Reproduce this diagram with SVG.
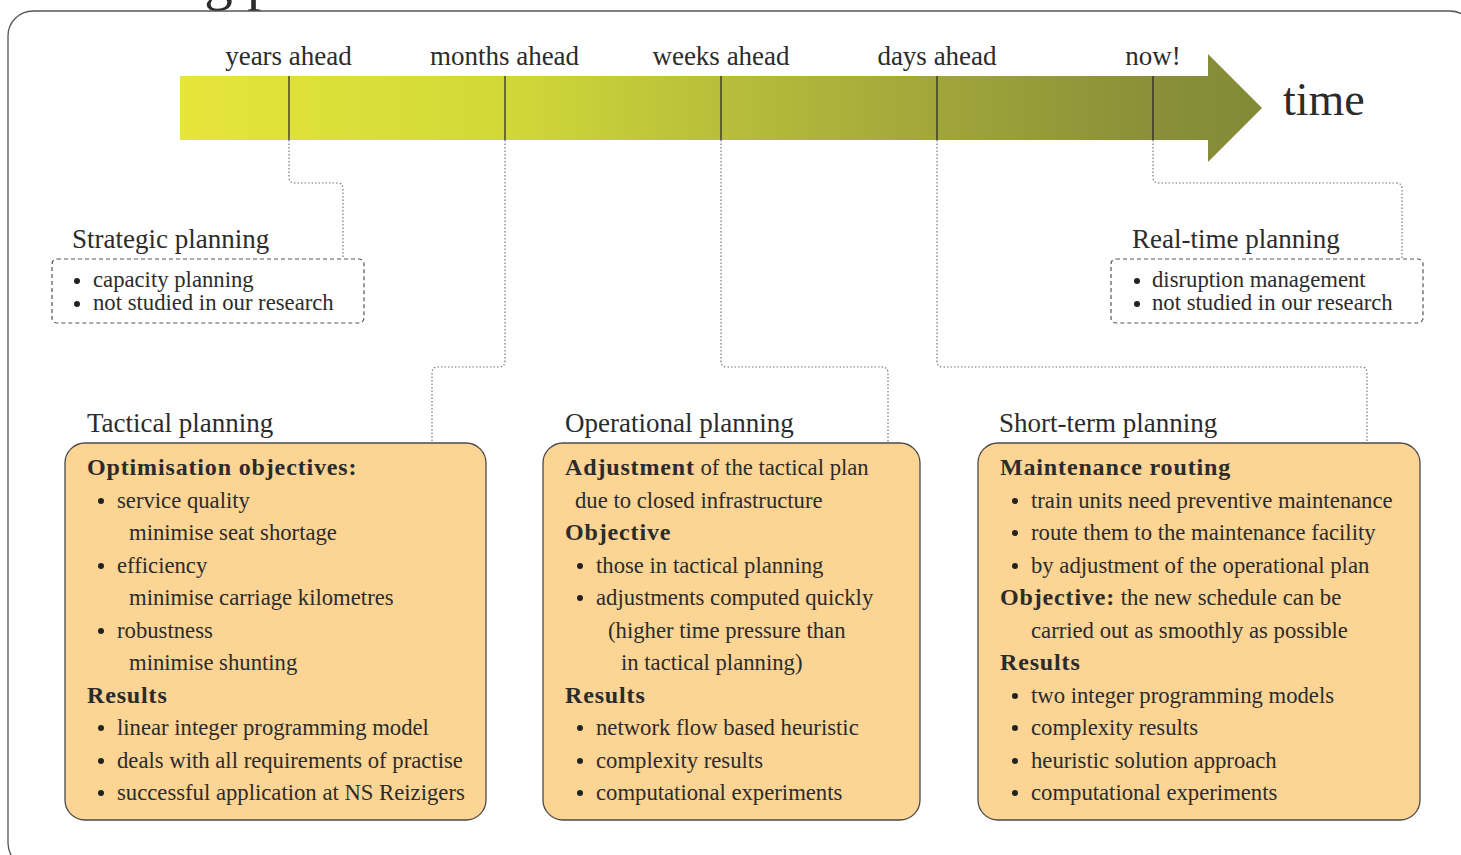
<svg xmlns="http://www.w3.org/2000/svg" width="1461" height="855" viewBox="0 0 1461 855">
<defs>
<linearGradient id="tg" gradientUnits="userSpaceOnUse" x1="180" y1="0" x2="1262" y2="0">
<stop offset="0" stop-color="#e6e53a"/>
<stop offset="0.3" stop-color="#d1d938"/>
<stop offset="0.5" stop-color="#b8be3a"/>
<stop offset="0.7" stop-color="#a0a63a"/>
<stop offset="0.9" stop-color="#8a8f38"/>
<stop offset="1" stop-color="#838a37"/>
</linearGradient>
<style>
text{font-family:"Liberation Serif","Times New Roman",serif;fill:#2b2b2b}
.lab{font-size:27px}
.tt{font-size:27px}
.b{font-size:22.7px}
.h{font-size:24px;font-weight:bold;letter-spacing:0.85px}
.bx{fill:#fcd494;stroke:#4a4a4a;stroke-width:1.3}
.dbx{fill:none;stroke:#555;stroke-width:1.2;stroke-dasharray:4 3}
.con{fill:none;stroke:#777;stroke-width:1.2;stroke-dasharray:1.5 2}
.tick{stroke:#222;stroke-width:1.2}
.dot{fill:#222}
</style>
</defs>
<text x="30" y="-1" style="font-size:57px">Planning phases</text>
<rect x="8" y="11" width="1467" height="857" rx="25" fill="none" stroke="#555" stroke-width="1.3"/>

<g id="timeline">
<path d="M180 76 H1208 V54 L1262 108 L1208 162 V140 H180 Z" fill="url(#tg)"/>
<line class="tick" x1="289" y1="76" x2="289" y2="140"/>
<line class="tick" x1="505" y1="76" x2="505" y2="140"/>
<line class="tick" x1="721" y1="76" x2="721" y2="140"/>
<line class="tick" x1="937" y1="76" x2="937" y2="140"/>
<line class="tick" x1="1153" y1="76" x2="1153" y2="140"/>
<text class="lab" x="288.5" y="65" text-anchor="middle">years ahead</text>
<text class="lab" x="504.5" y="65" text-anchor="middle">months ahead</text>
<text class="lab" x="721" y="65" text-anchor="middle">weeks ahead</text>
<text class="lab" x="937" y="65" text-anchor="middle">days ahead</text>
<text class="lab" x="1153" y="65" text-anchor="middle">now!</text>
<text x="1283" y="115" style="font-size:46px">time</text>
</g>

<g id="connectors">
<path class="con" d="M289 140 V177 Q289 183 295 183 H337 Q343 183 343 189 V259"/>
<path class="con" d="M505 140 V361 Q505 367 499 367 H438 Q432 367 432 373 V443"/>
<path class="con" d="M721 140 V361 Q721 367 727 367 H882 Q888 367 888 373 V443"/>
<path class="con" d="M937 140 V361 Q937 367 943 367 H1361 Q1367 367 1367 373 V443"/>
<path class="con" d="M1153 140 V177 Q1153 183 1159 183 H1396 Q1402 183 1402 189 V259"/>
</g>

<g id="strategic">
<text class="tt" x="72" y="248">Strategic planning</text>
<rect class="dbx" x="52" y="259" width="312" height="64" rx="5"/>
<circle class="dot" cx="77" cy="281" r="3"/>
<text class="b" x="93" y="287">capacity planning</text>
<circle class="dot" cx="77" cy="304" r="3"/>
<text class="b" x="93" y="310">not studied in our research</text>
</g>

<g id="realtime">
<text class="tt" x="1132" y="248">Real-time planning</text>
<rect class="dbx" x="1111" y="259" width="312" height="64" rx="5"/>
<circle class="dot" cx="1137" cy="281" r="3"/>
<text class="b" x="1152" y="287">disruption management</text>
<circle class="dot" cx="1137" cy="304" r="3"/>
<text class="b" x="1152" y="310">not studied in our research</text>
</g>

<g id="tactical">
<text class="tt" x="87" y="432">Tactical planning</text>
<rect class="bx" x="65" y="443" width="421" height="377" rx="20"/>
<text class="h" x="87" y="475">Optimisation objectives:</text>
<circle class="dot" cx="101" cy="501" r="3"/>
<text class="b" x="117" y="507.5">service quality</text>
<text class="b" x="129" y="540">minimise seat shortage</text>
<circle class="dot" cx="101" cy="566" r="3"/>
<text class="b" x="117" y="572.5">efficiency</text>
<text class="b" x="129" y="605">minimise carriage kilometres</text>
<circle class="dot" cx="101" cy="631" r="3"/>
<text class="b" x="117" y="637.5">robustness</text>
<text class="b" x="129" y="670">minimise shunting</text>
<text class="h" x="87" y="702.5">Results</text>
<circle class="dot" cx="101" cy="728" r="3"/>
<text class="b" x="117" y="735">linear integer programming model</text>
<circle class="dot" cx="101" cy="761" r="3"/>
<text class="b" x="117" y="767.5">deals with all requirements of practise</text>
<circle class="dot" cx="101" cy="793" r="3"/>
<text class="b" x="117" y="800">successful application at NS Reizigers</text>
</g>

<g id="operational">
<text class="tt" x="565" y="432">Operational planning</text>
<rect class="bx" x="543" y="443" width="377" height="377" rx="20"/>
<text x="565" y="475"><tspan class="h">Adjustment</tspan><tspan class="b"> of the tactical plan</tspan></text>
<text class="b" x="575" y="507.5">due to closed infrastructure</text>
<text class="h" x="565" y="540">Objective</text>
<circle class="dot" cx="580" cy="566" r="3"/>
<text class="b" x="596" y="572.5">those in tactical planning</text>
<circle class="dot" cx="580" cy="598" r="3"/>
<text class="b" x="596" y="605">adjustments computed quickly</text>
<text class="b" x="608" y="637.5">(higher time pressure than</text>
<text class="b" x="621" y="670">in tactical planning)</text>
<text class="h" x="565" y="702.5">Results</text>
<circle class="dot" cx="580" cy="728" r="3"/>
<text class="b" x="596" y="735">network flow based heuristic</text>
<circle class="dot" cx="580" cy="761" r="3"/>
<text class="b" x="596" y="767.5">complexity results</text>
<circle class="dot" cx="580" cy="793" r="3"/>
<text class="b" x="596" y="800">computational experiments</text>
</g>

<g id="shortterm">
<text class="tt" x="999" y="432">Short-term planning</text>
<rect class="bx" x="978" y="443" width="442" height="377" rx="20"/>
<text class="h" x="1000" y="475">Maintenance routing</text>
<circle class="dot" cx="1015" cy="501" r="3"/>
<text class="b" x="1031" y="507.5">train units need preventive maintenance</text>
<circle class="dot" cx="1015" cy="533" r="3"/>
<text class="b" x="1031" y="540">route them to the maintenance facility</text>
<circle class="dot" cx="1015" cy="566" r="3"/>
<text class="b" x="1031" y="572.5">by adjustment of the operational plan</text>
<text x="1000" y="605"><tspan class="h">Objective:</tspan><tspan class="b"> the new schedule can be</tspan></text>
<text class="b" x="1031" y="637.5">carried out as smoothly as possible</text>
<text class="h" x="1000" y="670">Results</text>
<circle class="dot" cx="1015" cy="696" r="3"/>
<text class="b" x="1031" y="702.5">two integer programming models</text>
<circle class="dot" cx="1015" cy="728" r="3"/>
<text class="b" x="1031" y="735">complexity results</text>
<circle class="dot" cx="1015" cy="761" r="3"/>
<text class="b" x="1031" y="767.5">heuristic solution approach</text>
<circle class="dot" cx="1015" cy="793" r="3"/>
<text class="b" x="1031" y="800">computational experiments</text>
</g>
</svg>
